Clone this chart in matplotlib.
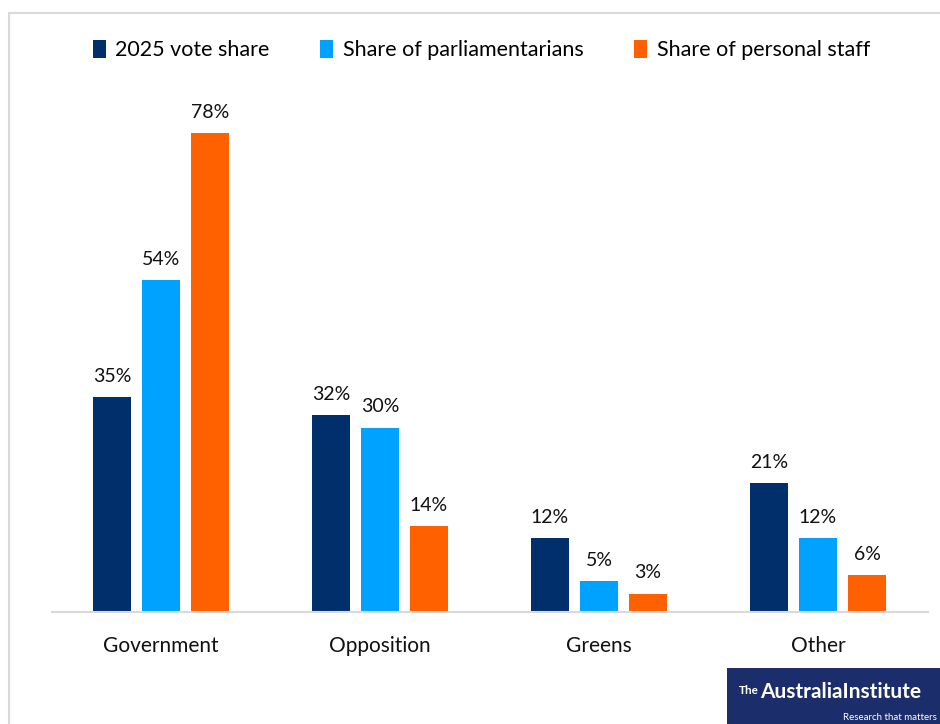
import matplotlib

matplotlib.use("Agg")
import matplotlib.pyplot as plt
import numpy as np
from matplotlib.patches import Rectangle

plt.rcParams["font.family"] = ["Lato", "DejaVu Sans"]

categories = ["Government", "Opposition", "Greens", "Other"]
series_names = ["2025 vote share", "Share of parliamentarians", "Share of personal staff"]
vote_share = [35, 32, 12, 21]
parl_share = [54, 30, 5, 12]
staff_share = [78, 14, 3, 6]

COLORS = ["#002F6C", "#00A2FF", "#FF6000"]

W, H = 940, 724
fig = plt.figure(figsize=(W / 100, H / 100), dpi=100)

# plot area in pixel coords: x 51.5..927.5, baseline at y=612
left, right = 51.5 / W, 927.5 / W
bottom = 1 - 612 / H
top = 1 - 63 / H
ax = fig.add_axes([left, bottom, right - left, top - bottom])

x = np.arange(len(categories))
width = 38 / 219
step = 49 / 219
for i, (vals, name, col) in enumerate(zip([vote_share, parl_share, staff_share], series_names, COLORS)):
    bars = ax.bar(x + (i - 1) * step, vals, width, color=col, label=name, zorder=2)
    for b, v in zip(bars, vals):
        ax.annotate(f"{v}%", (b.get_x() + b.get_width() / 2, v), xytext=(0, 9),
                    textcoords="offset points", ha="center", va="bottom", fontsize=14, color="#111111")

ax.set_xlim(-0.5, len(categories) - 0.5)
ax.set_ylim(0, 89.4)
ax.set_xticks(x)
ax.set_xticklabels(categories, fontsize=15, color="#111111")
ax.tick_params(axis="x", length=0, pad=17)
ax.set_yticks([])
for s in ["top", "right", "left"]:
    ax.spines[s].set_visible(False)
ax.spines["bottom"].set_color("#D9D9D9")
ax.spines["bottom"].set_linewidth(1.5)

fig.legend(loc="center", bbox_to_anchor=(0.512, 1 - 50 / H), ncol=3, frameon=False,
           fontsize=15.5, handlelength=0.6, handleheight=0.9, handletextpad=0.45,
           columnspacing=2.35)

# chart frame
fig.patches.append(Rectangle((9 / W, -0.1), 1.2, 1 - 13 / H + 0.1, transform=fig.transFigure,
                             fill=False, edgecolor="#D9D9D9", linewidth=1.5))

# logo box
fig.patches.append(Rectangle((727 / W, 0), 1 - 727 / W, 56 / H, transform=fig.transFigure,
                             facecolor="#1B2D6B", edgecolor="none", zorder=5))
fig.text(739 / W, 1 - 690 / H, "The", color="white", fontsize=8.5, fontweight="bold",
         va="center", ha="left", zorder=6)
fig.text(760 / W, 1 - 692 / H, "AustraliaInstitute", color="white", fontsize=15, fontweight="bold",
         va="center", ha="left", zorder=6)
fig.text(937 / W, 1 - 717 / H, "Research that matters", color="white", fontsize=7,
         va="center", ha="right", zorder=6)

fig.savefig("out.png", dpi=100)
